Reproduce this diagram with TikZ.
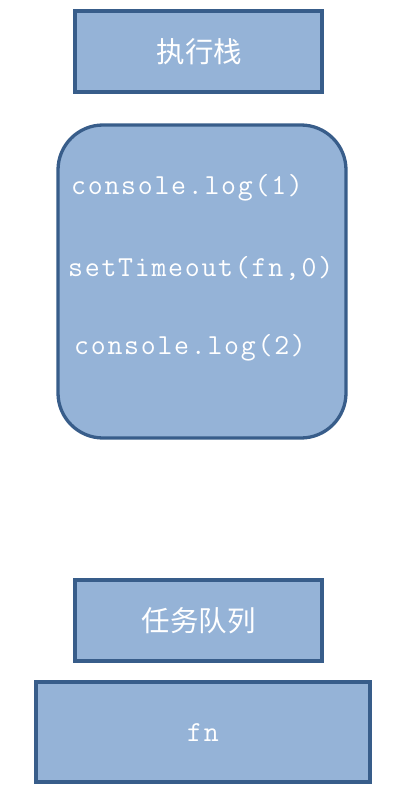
\documentclass[tikz,border=0pt]{standalone}
\usepackage{fontspec}
\newfontfamily\cjk{Noto Sans CJK SC}
\newfontfamily\codefont[LetterSpace=6]{Latin Modern Mono}
\definecolor{boxfill}{HTML}{95B3D7}
\definecolor{boxline}{HTML}{385D8A}
\begin{document}
\begin{tikzpicture}[x=1pt,y=-1pt,
  panel/.style={draw=boxline,fill=boxfill,line width=3.3pt},
  title/.style={text=white,font=\cjk\fontsize{28.5}{32}\selectfont},
  code/.style={text=white,anchor=west,inner sep=0pt,font=\codefont\fontsize{29}{34}\selectfont}]
\useasboundingbox (0,0) rectangle (400,791);
\draw[panel] (75,11) rectangle (322,92);
\node[title] (stack) at (199.5,52) {执行栈};
\draw[panel,rounded corners=45pt] (58,125) rectangle (346,438);
\node[code] (c1) at (71,188) {console.log(1)};
\node[code] (c2) at (68,268) {setTimeout(fn,0)};
\node[code] (c3) at (74,348) {console.log(2)};
\draw[panel] (75,580) rectangle (322,661);
\node[title] (queue) at (198.5,621) {任务队列};
\draw[panel] (36,682) rectangle (370,782);
\node[code,anchor=center] (fn) at (203,733) {fn};
\end{tikzpicture}
\end{document}
